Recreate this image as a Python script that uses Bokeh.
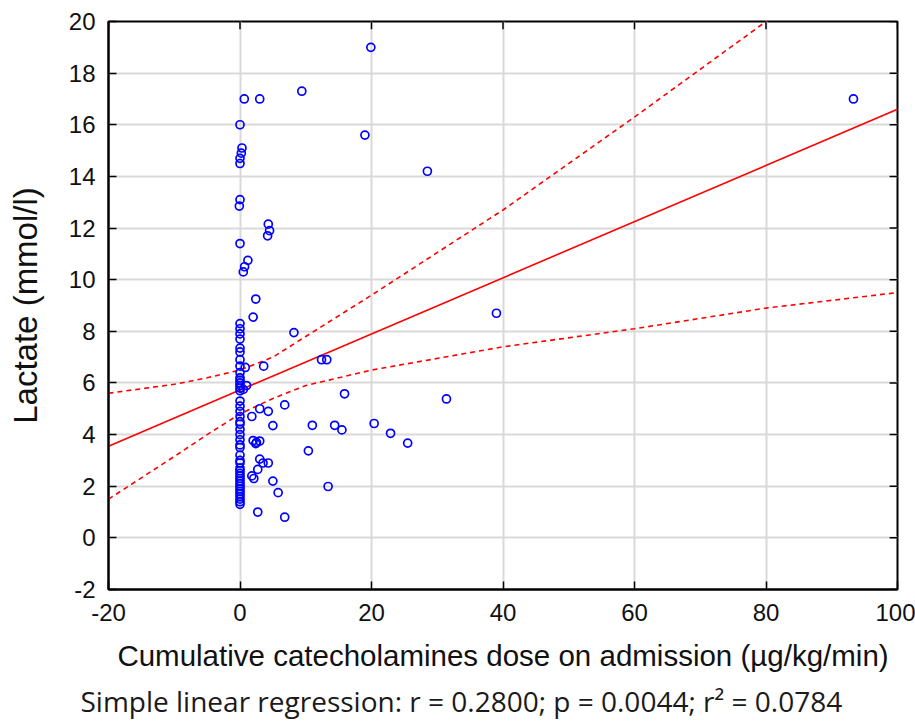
from bokeh.plotting import figure
from bokeh.models import FixedTicker, Range1d
from bokeh.embed import file_html
from bokeh.resources import INLINE

# ---- data ----
dose = [19.9, 0.65, 3.0, 9.4, 19.0, 28.5, 93.3,
        0.0, 0.3, 0.2, 0.0, 0.0, 0.0, -0.1, 0.0,
        4.3, 4.5, 4.2,
        1.2, 0.7, 0.5,
        2.4, 2.0, 8.2, 39.0,
        0.0, 0.0, 0.0, 0.0, 0.0, 0.0, 0.0, 0.0, 0.0, 0.0, 0.0, 0.0, 0.0, 0.0, 0.0,
        0.8, 3.6, 12.4, 13.2, 1.0, 0.5,
        15.9, 31.4, 6.8,
        0.0, 0.0, 0.0, 0.0, 0.0, 0.0, 0.0, 0.0, 0.0, 0.0, 0.0, 0.0, 0.0, 0.0, 0.0,
        0.0, 0.0, 0.0, 0.0, 0.0, 0.0, 0.0, 0.0, 0.0, 0.0, 0.0, 0.0, 0.0, 0.0,
        1.8, 3.0, 4.3, 5.0, 11.0, 14.4, 15.5, 20.4, 22.9, 25.5, 10.4,
        2.0, 2.5, 3.0, 2.4,
        3.0, 3.5, 4.3, 2.7, 1.8, 2.1, 5.0, 5.8, 13.4, 2.7, 6.8]
lactate = [19.0, 17.0, 17.0, 17.3, 15.6, 14.2, 17.0,
           16.0, 15.1, 14.9, 14.7, 14.5, 13.1, 12.85, 11.4,
           12.15, 11.9, 11.7,
           10.75, 10.5, 10.3,
           9.25, 8.55, 7.95, 8.7,
           8.3, 8.1, 7.9, 7.7, 7.35, 7.2, 6.9, 6.65, 6.4, 6.2, 6.1, 6.0, 5.9, 5.8, 5.7,
           6.6, 6.65, 6.9, 6.9, 5.9, 5.75,
           5.58, 5.38, 5.15,
           5.3, 5.1, 4.9, 4.7, 4.5, 4.4, 4.2, 4.0, 3.8, 3.6, 3.5, 3.2, 3.0, 2.9, 2.7,
           2.6, 2.5, 2.4, 2.3, 2.2, 2.1, 2.0, 1.9, 1.8, 1.7, 1.6, 1.5, 1.4, 1.3,
           4.7, 5.0, 4.9, 4.35, 4.36, 4.36, 4.18, 4.43, 4.05, 3.67, 3.37,
           3.77, 3.7, 3.75, 3.65,
           3.05, 2.9, 2.9, 2.65, 2.4, 2.3, 2.2, 1.75, 1.99, 1.0, 0.8]

reg_x = [-20, 100]
reg_y = [3.55, 16.6]

band_x = [-20, -10, -5, 0, 5, 10, 20, 40, 60, 80, 100]
upper_y = [5.6, 5.95, 6.2, 6.5, 7.0, 7.8, 9.4, 12.7, 16.3, 20.0, 23.6]
lower_y = [1.5, 3.15, 4.0, 4.8, 5.4, 5.9, 6.5, 7.4, 8.1, 8.9, 9.5]

x_ticks = [-20, 0, 20, 40, 60, 80, 100]
y_ticks = [-2, 0, 2, 4, 6, 8, 10, 12, 14, 16, 18, 20]

x_label = "Cumulative catecholamines dose on admission (µg/kg/min)"
y_label = "Lactate (mmol/l)"
stats_text = "Simple linear regression: r = 0.2800; p = 0.0044; r² = 0.0784"

X_MIN, X_MAX = -20, 100
Y_MIN, Y_MAX = -2, 20

# ---- figure ----
p = figure(width=915, height=724, x_range=Range1d(X_MIN, X_MAX), y_range=Range1d(Y_MIN, Y_MAX),
           output_backend="svg", toolbar_location=None,
           min_border_left=108, min_border_right=18, min_border_top=21, min_border_bottom=132,
           title=stats_text, title_location="below")

p.background_fill_color = "white"
p.border_fill_color = "white"
p.outline_line_color = "black"
p.outline_line_width = 2

p.title.text_font = "Open Sans"
p.title.text_font_size = "28px"
p.title.text_font_style = "normal"
p.title.text_color = "#1a1a1a"
p.title.align = "left"
p.title.offset = -28
p.title.standoff = 10

p.xaxis.ticker = FixedTicker(ticks=x_ticks)
p.yaxis.ticker = FixedTicker(ticks=y_ticks)
p.xgrid.ticker = FixedTicker(ticks=x_ticks)
p.ygrid.ticker = FixedTicker(ticks=y_ticks)
p.grid.grid_line_color = "#d9d9d9"
p.grid.grid_line_width = 2

p.xaxis.major_label_overrides = {t: str(t) for t in x_ticks}
p.yaxis.major_label_overrides = {t: str(t) for t in y_ticks}

for ax in (p.xaxis[0], p.yaxis[0]):
    ax.axis_line_color = "black"
    ax.axis_line_width = 2
    ax.major_tick_in = 8
    ax.major_tick_out = 0
    ax.major_tick_line_color = "black"
    ax.major_tick_line_width = 1.5
    ax.minor_tick_line_color = None
    ax.major_label_text_font = "Liberation Sans"
    ax.major_label_text_font_size = "24px"
    ax.major_label_text_color = "#111111"
    ax.axis_label_text_font = "Liberation Sans"
    ax.axis_label_text_font_style = "normal"
    ax.axis_label_text_color = "#111111"

p.xaxis.axis_label = x_label
p.xaxis.axis_label_text_font_size = "29.5px"
p.xaxis.major_label_standoff = 14
p.xaxis.axis_label_standoff = 15

p.yaxis.axis_label = y_label
p.yaxis.axis_label_text_font_size = "33px"
p.yaxis.major_label_standoff = 13
p.yaxis.axis_label_standoff = 22

# inward tick marks on the right and top borders
p.segment(x0=[X_MAX] * len(y_ticks), y0=y_ticks, x1=[X_MAX - 1.2] * len(y_ticks), y1=y_ticks,
          line_color="black", line_width=1.5)
p.segment(x0=x_ticks, y0=[Y_MAX] * len(x_ticks), x1=x_ticks, y1=[Y_MAX - 0.3] * len(x_ticks),
          line_color="black", line_width=1.5)

# ---- glyphs ----
p.line(band_x, upper_y, line_color="#ff0000", line_width=1.6, line_dash="5 4")
p.line(band_x, lower_y, line_color="#ff0000", line_width=1.6, line_dash="5 4")
p.line(reg_x, reg_y, line_color="#ff0000", line_width=1.6)
p.scatter(dose, lactate, marker="circle", size=8, fill_color=None,
          line_color="#0000ff", line_width=1.7)

open("out.html", "w").write(file_html(p, INLINE))
